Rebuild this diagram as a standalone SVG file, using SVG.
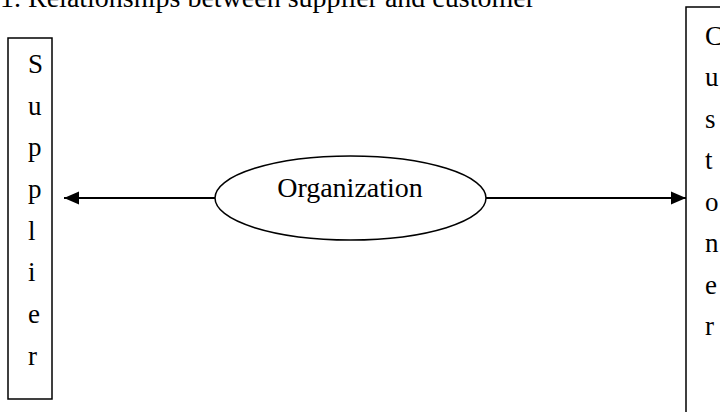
<svg xmlns="http://www.w3.org/2000/svg" width="720" height="412" viewBox="0 0 720 412">
<defs>
<marker id="ah" markerWidth="16" markerHeight="14" refX="15" refY="7" orient="auto" markerUnits="userSpaceOnUse">
<path d="M0,0.5 L15,7 L0,13.5 Z" fill="#000"/>
</marker>
<style>
.t{font-family:"Liberation Serif","Times New Roman",serif;fill:#000}
.box{fill:#fff;stroke:#000;stroke-width:1.5}
.l{font-size:27px}
.ln{stroke:#000;stroke-width:1.8;fill:none}
</style>
</defs>
<rect width="720" height="412" fill="#fff"/>
<text class="t" x="0" y="7" font-size="28">1. Relationships between supplier and customer</text>
<g id="supplier">
<rect class="box" x="8" y="38" width="44" height="361"/>
<g class="t l">
<text x="28" y="73">S</text>
<text x="28" y="115">u</text>
<text x="28" y="156">p</text>
<text x="28" y="198">p</text>
<text x="28" y="240">l</text>
<text x="28" y="281">i</text>
<text x="28" y="323">e</text>
<text x="28" y="365">r</text>
</g>
</g>
<g id="customer">
<rect class="box" x="686" y="7" width="50" height="420"/>
<g class="t l">
<text x="705" y="45">C</text>
<text x="705" y="86">u</text>
<text x="705" y="128">s</text>
<text x="705" y="169">t</text>
<text x="705" y="211">o</text>
<text x="705" y="252">n</text>
<text x="705" y="294">e</text>
<text x="705" y="335">r</text>
</g>
</g>
<g id="organization">
<ellipse class="box" cx="350.5" cy="198" rx="135.5" ry="42"/>
<text class="t" x="350" y="197" font-size="28" text-anchor="middle">Organization</text>
</g>
<g id="connectors">
<line class="ln" x1="215" y1="198" x2="64" y2="198" marker-end="url(#ah)"/>
<line class="ln" x1="486" y1="198" x2="686" y2="198" marker-end="url(#ah)"/>
</g>
</svg>
